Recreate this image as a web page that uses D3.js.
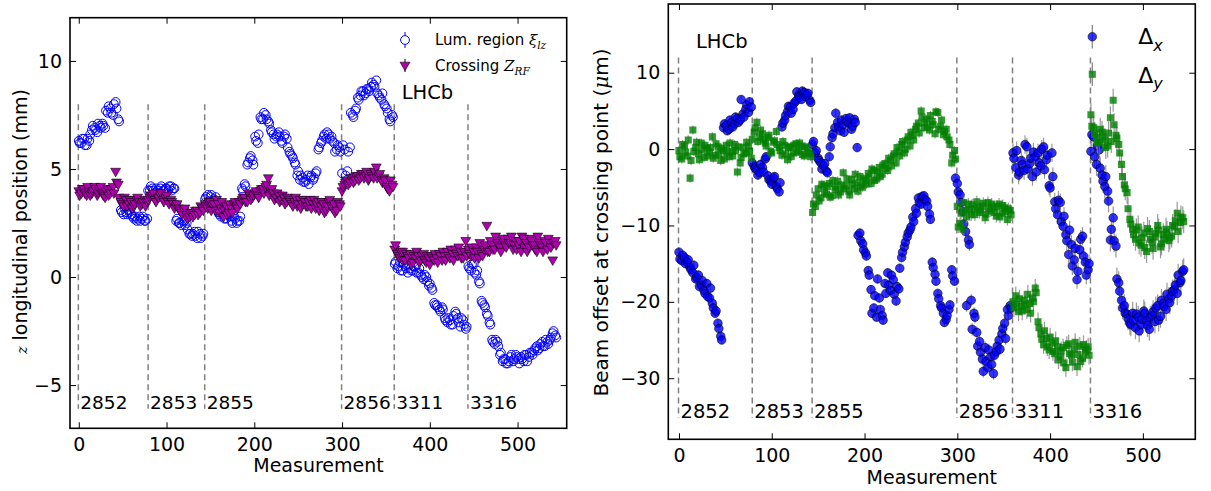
<!DOCTYPE html>
<html>
<head>
<meta charset="utf-8">
<script src="https://cdn.jsdelivr.net/npm/d3@7"></script>
<style>
  html, body { margin: 0; padding: 0; background: #fff; }
  svg { display: block; }
  text { font-family: "DejaVu Sans", sans-serif; fill: #000; }
</style>
</head>
<body>
<svg id="chart" width="1211" height="491"></svg>
<script>
// ---------------------------------------------------------------
// Data
// ---------------------------------------------------------------
// LHC fills and the first measurement belonging to each fill
const fillRuns  = ["2852", "2853", "2855", "2856", "3311", "3316"];
const fillStart = [-0.5, 79, 143.5, 299.5, 359.5, 443.5];

// Measurement index of each plotted point (first set)
const measurement = [
  0, 3, 6, 9, 12, 15, 18, 21, 24, 27,
  30, 33, 36, 39, 42, 45, 48, 51, 54, 57,
  60, 63, 66, 69, 72, 75, 78, 81, 84, 87,
  90, 93, 96, 99, 102, 105, 108, 111, 114, 117,
  120, 123, 126, 129, 132, 135, 138, 141, 144, 147,
  150, 153, 156, 159, 162, 165, 168, 171, 174, 177,
  180, 183, 186, 189, 192, 195, 198, 201, 204, 207,
  210, 213, 216, 219, 222, 225, 228, 231, 234, 237,
  240, 243, 246, 249, 252, 255, 258, 261, 264, 267,
  270, 273, 276, 279, 282, 285, 288, 291, 294, 297,
  300, 303, 306, 309, 312, 315, 318, 321, 324, 327,
  330, 333, 336, 339, 342, 345, 348, 351, 354, 357,
  360, 363, 366, 369, 372, 375, 378, 381, 384, 387,
  390, 393, 396, 399, 402, 405, 408, 411, 414, 417,
  420, 423, 426, 429, 432, 435, 438, 441, 444, 447,
  450, 453, 456, 459, 462, 465, 468, 471, 474, 477,
  480, 483, 486, 489, 492, 495, 498, 501, 504, 507,
  510, 513, 516, 519, 522, 525, 528, 531, 534, 537,
  540, 543
];

// Measurement index of each plotted point (second set)
const measurement2 = [
  1, 4, 7, 10, 13, 16, 19, 22, 25, 28,
  31, 34, 37, 40, 43, 46, 49, 52, 55, 58,
  61, 64, 67, 70, 73, 76, 79, 82, 85, 88,
  91, 94, 97, 100, 103, 106, 109, 112, 115, 118,
  121, 124, 127, 130, 133, 136, 139, 142, 145, 148,
  151, 154, 157, 160, 163, 166, 169, 172, 175, 178,
  181, 184, 187, 190, 193, 196, 199, 202, 205, 208,
  211, 214, 217, 220, 223, 226, 229, 232, 235, 238,
  241, 244, 247, 250, 253, 256, 259, 262, 265, 268,
  271, 274, 277, 280, 283, 286, 289, 292, 295, 298,
  301, 304, 307, 310, 313, 316, 319, 322, 325, 328,
  331, 334, 337, 340, 343, 346, 349, 352, 355, 358,
  361, 364, 367, 370, 373, 376, 379, 382, 385, 388,
  391, 394, 397, 400, 403, 406, 409, 412, 415, 418,
  421, 424, 427, 430, 433, 436, 439, 442, 445, 448,
  451, 454, 457, 460, 463, 466, 469, 472, 475, 478,
  481, 484, 487, 490, 493, 496, 499, 502, 505, 508,
  511, 514, 517, 520, 523, 526, 529, 532, 535, 538,
  541, 544
];

// Luminous region longitudinal centre xi_lz (mm)
const lumZ = [
  // 2852
  6.3, 6.2, 6.4, 6.1, 6.3, 6.8, 6.9, 6.7, 7.0, 7.1, 6.9, 7.6, 7.8, 7.5, 8.1, 7.3,
  3.1, 2.9, 3.0, 3.1, 2.9, 2.7, 2.6, 2.8, 2.7, 2.6, 2.7,
  // 2853
  4.0, 4.1, 3.9, 4.0, 4.1, 4.0, 4.1, 4.0, 4.2, 4.1, 2.6, 2.5, 2.4, 2.6, 2.5, 2.0,
  1.9, 2.1, 1.8, 2.0, 1.9,
  // 2855
  3.6, 3.8, 3.7, 3.5, 3.7, 3.0, 2.8, 3.1, 2.7, 2.9, 2.6, 2.8, 2.5, 2.6, 4.1, 4.3,
  5.2, 5.5, 5.4, 6.5, 6.2, 7.4, 7.3, 7.5, 7.2, 6.8, 6.6, 6.5, 6.7, 6.3, 6.5, 6.4,
  5.8, 5.6, 5.3, 4.7, 4.5, 4.6, 4.4, 4.7, 4.6, 4.5, 4.8, 5.9, 6.2, 6.5, 6.4, 6.6,
  6.5, 6.2, 5.9, 6.0,
  // 2856
  4.8, 5.9, 4.9, 6.0, 7.5, 7.7, 8.3, 8.4, 8.6, 8.5, 8.7, 8.8, 8.9, 9.1, 8.4, 8.2,
  8.0, 7.8, 7.3, 7.5,
  // 3311
  0.6, 0.4, 0.7, 0.3, 0.5, 0.2, 0.4, 0.3, 0.5, 0.2, 0.1, -0.1, 0.0, -0.4, -0.5, -1.2,
  -1.3, -1.5, -1.4, -1.9, -2.1, -2.0, -2.2, -1.6, -1.9, -2.3, -2.0, -2.4,
  // 3316
  0.5, 0.3, 0.6, 0.1, -0.2, -1.1, -1.3, -1.7, -2.1, -2.9, -3.1, -3.0, -3.6, -3.9, -3.8, -4.0,
  -3.7, -3.9, -3.6, -3.8, -3.7, -3.9, -3.6, -3.7, -3.5, -3.4, -3.2, -3.3, -3.0, -3.2,
  -3.0, -2.9, -2.6, -2.7
];
const lumZ2 = [
  // 2852
  6.2, 6.4, 6.1, 6.4, 6.6, 7.0, 6.8, 7.1, 6.9, 7.0, 7.7, 7.9, 7.6, 8.0, 7.8, 7.2,
  3.0, 3.2, 2.9, 3.0, 2.8, 2.8, 2.7, 2.6, 2.8, 2.6,
  // 2853
  4.0, 4.2, 4.0, 4.1, 3.9, 4.2, 4.0, 4.1, 4.2, 4.0, 4.1, 2.7, 2.5, 2.6, 2.4, 2.2,
  2.0, 2.0, 1.9, 2.1, 1.8, 2.0,
  // 2855
  3.7, 3.5, 3.8, 3.6, 3.3, 2.9, 3.0, 2.7, 2.9, 2.8, 2.5, 2.7, 2.6, 2.8, 4.0, 4.2,
  5.3, 5.6, 5.2, 6.3, 6.6, 7.3, 7.6, 7.3, 7.1, 6.7, 6.4, 6.6, 6.5, 6.2, 6.6, 6.0,
  5.7, 5.5, 5.2, 4.9, 4.7, 4.4, 4.5, 4.3, 4.7, 4.6, 4.9, 6.0, 6.3, 6.6, 6.7, 6.4,
  6.3, 5.8, 6.1, 5.8,
  // 2856
  6.1, 4.7, 5.8, 7.6, 7.4, 7.8, 8.2, 8.6, 8.4, 8.7, 8.6, 9.0, 8.8, 8.5, 8.3, 8.5,
  7.9, 7.6, 7.2, 7.4,
  // 3311
  0.7, 0.5, 0.3, 0.6, 0.4, 0.6, 0.3, 0.5, 0.2, 0.4, 0.0, 0.1, -0.2, -0.3, -0.6, -1.3,
  -1.4, -1.6, -1.5, -2.0, -1.9, -2.2, -1.8, -1.7, -2.1, -1.9, -2.2, -2.3,
  // 3316
  0.4, 0.6, 0.2, 0.3, -0.3, -1.2, -1.4, -1.8, -2.2, -3.0, -2.9, -3.2, -3.5, -3.8, -4.0,
  -3.9, -3.6, -3.8, -3.7, -4.0, -3.8, -3.6, -3.9, -3.5, -3.6, -3.3, -3.4, -3.1, -3.2,
  -2.9, -3.1, -2.8, -2.5, -2.8
];

// Beam crossing position from the RF timing, Z_RF (mm)
const crossZ = [
  // 2852
  4.0, 3.9, 4.1, 3.8, 4.0, 3.9, 4.2, 3.8, 4.0, 3.9, 3.7, 4.1, 3.9, 4.2, 4.9, 4.3,
  3.5, 3.3, 3.6, 3.4, 3.5, 3.3, 3.6, 3.5, 3.4, 3.6, 3.5,
  // 2853
  3.7, 3.8, 3.6, 3.7, 3.8, 3.6, 3.7, 3.5, 3.6, 3.4, 3.3, 3.2, 3.0, 3.1, 2.9, 2.8,
  3.0, 2.9, 3.1, 3.0, 3.2,
  // 2855
  3.4, 3.2, 3.5, 3.3, 3.1, 3.4, 3.2, 2.8, 3.3, 3.0, 3.2, 3.4, 3.3, 3.5, 3.6, 3.7,
  3.5, 3.8, 3.7, 3.9, 3.8, 4.0, 4.1, 4.2, 4.6, 4.0, 3.9, 3.7, 3.8, 3.6, 3.7, 3.5,
  3.6, 3.4, 3.5, 3.3, 3.6, 3.4, 3.5, 3.3, 3.6, 3.4, 3.2, 3.5, 3.3, 3.4, 3.1, 3.5,
  3.3, 3.4, 3.1, 3.4,
  // 2856
  4.0, 4.3, 4.5, 4.4, 4.6, 4.5, 4.7, 4.6, 4.8, 4.7, 4.5, 4.8, 4.6, 5.1, 4.7, 4.5,
  4.6, 4.2, 4.0, 4.3,
  // 3311
  1.3, 1.1, 0.9, 1.2, 0.8, 1.0, 1.1, 0.7, 0.9, 1.0, 0.8, 1.1, 0.7, 0.9, 1.0, 0.8,
  0.9, 1.1, 0.8, 1.0, 1.2, 0.9, 1.1, 1.3, 1.0, 1.2, 0.9, 1.7,
  // 3316
  1.3, 1.0, 1.2, 1.4, 0.9, 1.1, 1.3, 2.4, 1.2, 1.5, 1.3, 1.6, 1.4, 1.7, 1.5, 1.8,
  1.6, 1.3, 1.7, 1.5, 1.2, 1.8, 1.6, 1.4, 1.7, 1.5, 1.2, 1.6, 1.4, 1.7, 1.3, 1.6,
  0.8, 1.7
];
const crossZ2 = [
  // 2852
  3.8, 4.1, 3.9, 4.2, 3.8, 4.0, 4.1, 3.9, 4.2, 3.8, 4.0, 3.8, 4.1, 3.9, 4.4, 3.7,
  3.4, 3.7, 3.3, 3.6, 3.2, 3.4, 3.7, 3.3, 3.5, 3.3,
  // 2853
  3.6, 3.8, 3.9, 3.5, 3.7, 3.9, 3.5, 3.8, 3.4, 3.5, 3.2, 3.4, 3.1, 2.9, 3.2, 2.7,
  3.0, 2.8, 3.1, 2.9, 3.3, 3.1,
  // 2855
  3.3, 3.5, 3.1, 3.4, 3.6, 3.0, 3.5, 3.1, 2.9, 3.4, 3.0, 3.5, 3.2, 3.4, 3.7, 3.5,
  3.9, 3.6, 3.8, 4.0, 3.7, 4.1, 3.9, 4.3, 3.8, 4.1, 3.6, 3.9, 3.5, 3.8, 3.4, 3.7,
  3.5, 3.3, 3.7, 3.4, 3.2, 3.6, 3.3, 3.5, 3.2, 3.6, 3.4, 3.1, 3.5, 3.0, 3.3, 3.6,
  3.2, 3.0, 3.5, 3.3,
  // 2856
  4.2, 4.4, 4.3, 4.6, 4.4, 4.7, 4.5, 4.8, 4.6, 4.9, 4.6, 4.7, 4.9, 4.6, 4.8, 4.4,
  4.5, 4.1, 4.5, 4.2,
  // 3311
  1.5, 1.0, 1.2, 0.8, 1.1, 0.9, 0.6, 1.0, 1.2, 0.7, 1.0, 0.8, 1.0, 0.6, 0.9, 1.1,
  0.7, 1.0, 1.2, 0.8, 1.0, 1.3, 0.8, 1.1, 1.4, 0.9, 1.2, 1.0,
  // 3316
  1.1, 1.4, 0.9, 1.2, 1.6, 1.0, 1.5, 1.2, 1.7, 1.3, 1.9, 1.5, 1.2, 1.8, 1.4, 1.6,
  1.9, 1.5, 1.3, 1.7, 1.9, 1.4, 1.2, 1.8, 1.5, 1.3, 1.9, 1.5, 1.2, 1.6, 1.8, 1.4,
  1.6, 1.5
];

// Transverse beam offsets at the crossing point (micrometre)
const deltaX = [
  // 2852
  -13.5, -14.6, -14.2, -14.8, -15.5, -16.2, -17.0, -16.5, -17.8, -18.5, -17.6, -19.5,
  -20.2, -21.5, -22.8, -24.5, 2.8, 3.1, 2.6, 3.5, 3.3, 4.0, 3.8, 4.6, 5.2, 4.8, 5.5,
  // 2853
  -2.2, -2.7, -3.1, -2.4, -1.3, -3.5, -4.2, -3.8, -4.9, -5.6, 2.9, 3.8, 4.9, 5.5,
  5.2, 6.3, 7.0, 6.5, 7.4, 7.1, 6.4,
  // 2855
  0.6, -0.5, -1.2, -1.8, -2.2, -2.9, -1.0, 1.5, 2.8, 3.5, 2.4, 3.2, 4.0, 3.4, 2.6, 3.9,
  0.2, -11.0, -12.4, -13.6, -15.9, -18.4, -20.8, -22.0, -19.5, -21.8, -17.6, -16.2,
  -18.5, -17.1, -19.9, -18.3, -14.2, -12.8, -11.5, -10.6, -8.9, -7.8, -6.4, -7.2,
  -6.1, -6.8, -8.5, -14.8, -16.4, -18.9, -20.5, -21.5, -22.3, -21.0, -15.8, -17.3,
  // 2856
  -4.5, -6.0, -8.2, -10.8, -11.9, -19.8, -21.5, -24.0, -25.2, -27.5, -26.0, -28.6,
  -27.2, -29.4, -26.5, -25.0, -24.2, -22.8, -21.0, -20.5,
  // 3311
  -0.5, -2.4, -3.4, -1.5, -2.8, 0.3, -1.9, -3.6, -1.0, -0.5, -2.2, 0.3, -1.4, -4.8,
  -0.5, -6.9, -8.6, -7.0, -10.1, -11.2, -13.8, -12.5, -14.5, -17.1, -13.2, -11.4,
  -14.8, -15.8,
  // 3316
  -0.3, 1.6, -2.0, -0.1, -3.4, -4.9, -5.5, -11.9, -9.0, -12.7, -17.5, -19.8, -20.5,
  -21.6, -22.8, -21.5, -23.4, -22.0, -23.0, -21.2, -22.5, -23.6, -21.8, -22.6, -20.5,
  -21.9, -20.2, -21.0, -19.6, -19.2, -18.4, -18.9, -17.5, -16.0
];
const deltaX2 = [
  // 2852
  -14.4, -13.9, -15.0, -14.5, -15.8, -15.2, -16.8, -18.0, -17.2, -18.9, -19.3, -18.2,
  -20.8, -21.2, -23.5, -25.0, 3.3, 2.4, 3.8, 2.9, 4.2, 3.5, 6.5, 4.2, 5.8, 6.2,
  // 2853
  -1.8, -2.5, -3.4, -2.0, -3.0, -1.0, -4.0, -4.6, -3.6, -5.2, -4.4, 3.4, 4.4, 5.6,
  4.7, 6.0, 7.5, 6.8, 7.6, 6.9, 7.3, 6.1,
  // 2855
  1.0, -0.2, -1.5, -2.6, -1.9, -3.1, 0.3, 2.0, 4.7, 2.9, 3.8, 2.2, 3.6, 4.1, 3.0, 3.5,
  -11.3, -12.0, -13.2, -14.0, -16.5, -21.5, -19.2, -17.0, -21.0, -22.4, -18.9, -17.8,
  -16.5, -19.0, -18.0, -15.6, -13.5, -12.2, -11.0, -10.2, -9.5, -8.4, -7.0, -6.2,
  -6.6, -7.5, -9.2, -15.5, -17.3, -19.6, -20.8, -22.7, -21.8, -20.4, -16.6, -3.8,
  // 2856
  -5.6, -7.0, -9.8, -20.5, -12.5, -23.6, -22.0, -25.8, -26.6, -29.1, -27.8, -26.3,
  -28.2, -27.0, -25.8, -26.2, -23.5, -24.8, -21.8, -20.8,
  // 3311
  -1.2, -0.2, -3.0, -2.0, 0.6, -2.6, -1.2, -0.4, -3.0, -1.8, 0.0, -2.7, -0.8, -5.1,
  -3.6, -7.8, -6.7, -9.5, -8.8, -12.0, -10.6, -15.3, -13.0, -16.0, -11.8, -14.0,
  -16.5, -15.0,
  // 3316
  1.9, -1.0, 0.4, -2.5, -4.2, -3.6, -6.8, -10.5, -12.0, -17.0, -18.6, -20.8, -21.5,
  -22.2, -23.0, -22.4, -21.6, -23.8, -22.3, -21.5, -23.1, -22.0, -21.3, -20.8, -22.4,
  -19.8, -20.6, -19.0, -20.1, -18.6, -17.8, -16.5, -17.2, -15.8
];

const deltaY = [
  // 2852
  -0.2, -1.3, 0.4, -0.9, -3.8, 2.5, 0.2, -0.6, 0.8, -1.1, 0.1, -0.4, 1.6, -0.8, 0.3,
  -1.5, -0.2, 0.5, -1.0, -0.3, 0.6, -3.0, -1.8, 0.2, -0.5, 0.4, -1.2,
  // 2853
  2.2, 3.5, 1.6, 2.0, 0.8, 1.5, -0.3, 0.9, 2.3, 0.2, -0.8, 0.5, -1.4, 0.3, -0.5, 0.7,
  -0.2, 0.4, -0.9, 0.1, -0.6,
  // 2855
  -8.3, -7.5, -5.2, -6.4, -4.8, -5.9, -4.5, -6.1, -5.0, -4.2, -5.6, -3.1, -4.8, -5.5,
  -4.0, -5.2, -4.4, -3.6, -5.0, -4.1, -3.2, -4.5, -2.8, -3.9, -2.4, -3.3, -1.9, -2.8,
  -1.5, -0.9, -1.8, -0.3, 0.6, -0.5, 1.2, 0.4, 1.8, 2.6, 3.4, 5.0, 2.8, 3.9, 2.5, 3.6,
  2.0, 4.8, 3.0, 1.9, 2.6, 1.2, -1.8, -0.2,
  // 2856
  -7.5, -9.7, -10.5, -8.0, -7.2, -8.6, -7.8, -6.9, -8.3, -7.5, -9.0, -7.0, -8.1, -7.6,
  -8.8, -7.2, -8.4, -7.7, -9.2, -8.0,
  // 3311
  -20.0, -19.2, -21.3, -20.6, -19.8, -21.0, -20.2, -19.5, -18.2, -22.6, -24.2, -25.6,
  -24.8, -26.3, -25.4, -26.8, -25.9, -27.2, -26.0, -28.6, -25.5, -27.0, -26.2, -28.5,
  -25.8, -27.4, -26.5, -25.9,
  // 3316
  4.5, 2.8, 1.5, 0.8, 2.2, 1.2, 0.4, 4.1, 6.4, 1.8, 0.6, -2.0, -4.7, -5.7, -9.2, -10.5,
  -11.8, -10.2, -12.6, -11.0, -13.4, -10.8, -12.2, -11.5, -10.0, -12.8, -11.2, -10.5,
  -12.0, -11.4, -10.2, -8.4, -9.6, -9.0
];
const deltaY2 = [
  // 2852
  -1.0, 0.6, -0.4, 1.2, -1.5, -0.3, 0.9, -1.4, -0.1, 0.5, -0.9, 0.2, -1.2, 0.7, -0.6,
  0.1, -1.3, -0.4, 0.8, -0.9, -0.2, 0.3, -1.1, -0.6, 0.9, -0.3,
  // 2853
  1.3, 2.8, 1.0, 2.5, 1.2, 0.4, 1.8, -0.5, 1.1, 0.6, -0.2, 1.0, -0.6, 0.2, -1.0, 0.5,
  -0.4, 0.8, -0.7, 0.3, -0.4, -1.0,
  // 2855
  -7.2, -6.0, -6.8, -4.6, -5.7, -4.9, -6.3, -4.1, -5.3, -6.0, -4.7, -5.2, -3.9, -6.0,
  -4.6, -3.3, -5.5, -4.8, -3.9, -4.6, -3.6, -2.6, -4.1, -3.0, -3.6, -2.1, -2.5, -1.2,
  -2.2, -0.6, 0.2, -0.9, 1.0, 0.0, 1.6, 2.2, 1.2, 3.0, 2.1, 4.2, 3.5, 2.9, 4.4, 3.2,
  4.9, 2.6, 3.8, 2.3, 1.6, 0.6, -0.8, -1.3,
  // 2856
  -10.2, -8.4, -7.0, -8.9, -7.9, -7.3, -8.6, -7.6, -8.0, -7.1, -8.5, -7.8, -7.2, -8.3,
  -7.5, -8.9, -7.4, -8.2, -7.8, -8.6,
  // 3311
  -20.8, -20.3, -19.6, -21.2, -20.4, -19.0, -21.5, -20.0, -18.8, -23.4, -24.9, -23.8,
  -25.9, -24.6, -26.5, -25.1, -27.6, -26.4, -28.0, -25.7, -26.8, -27.9, -25.3, -26.9,
  -27.8, -25.6, -26.2, -27.0,
  // 3316
  3.0, 2.0, 0.9, 2.6, 1.6, 0.2, 2.1, 1.0, 3.2, 1.4, -0.5, -3.6, -5.2, -7.8, -9.8, -11.2,
  -10.6, -12.3, -11.6, -12.9, -10.4, -11.8, -13.0, -11.0, -10.6, -12.4, -11.8, -10.9,
  -11.6, -10.0, -9.4, -10.8, -8.9, -9.5
];

// Typical offset uncertainty per fill (micrometre)
const offsetErr = [0.6, 0.6, 0.6, 0.8, 1.2, 1.5];

// Axis ticks
const xTicks      = [0, 100, 200, 300, 400, 500];
const leftYTicks  = [-5, 0, 5, 10];
const rightYTicks = [-30, -20, -10, 0, 10];

[lumZ, crossZ, deltaX, deltaY].forEach((s, i) => {
  if (s.length !== measurement.length) throw new Error("set 1, series " + i + " has " + s.length + " values");
});
[lumZ2, crossZ2, deltaX2, deltaY2].forEach((s, i) => {
  if (s.length !== measurement2.length) throw new Error("set 2, series " + i + " has " + s.length + " values");
});

// ---------------------------------------------------------------
// Drawing
// ---------------------------------------------------------------
const svg = d3.select("#chart");
const fillOf = m => Math.max(0, d3.bisectRight(fillStart, m) - 1);

const xL = d3.scaleLinear([-10, 556], [70, 566.7]);
const yL = d3.scaleLinear([-7, 12], [428.3, 17.7]);
const xR = d3.scaleLinear([-11.5, 556.5], [668.3, 1195.3]);
const yR = d3.scaleLinear([-38, 19], [439.3, 4]);

function clipFor(id, x, y) {
  const [x0, x1] = x.range(), [y0, y1] = y.range();
  svg.append("clipPath").attr("id", id).append("rect")
    .attr("x", x0).attr("y", y1).attr("width", x1 - x0).attr("height", y0 - y1);
}
clipFor("clipL", xL, yL);
clipFor("clipR", xR, yR);

function styleAxis(sel) {
  sel.select(".domain").remove();
  sel.attr("font-family", "DejaVu Sans, sans-serif").attr("font-size", 19);
  sel.selectAll(".tick line").attr("stroke", "#000").attr("stroke-width", 1);
  sel.selectAll(".tick text").attr("fill", "#000");
}

function frame(x, y, yTicks) {
  const [x0, x1] = x.range(), [y0, y1] = y.range();
  const g = svg.append("g");
  g.append("g").attr("transform", `translate(0,${y0})`)
    .call(d3.axisBottom(x).tickValues(xTicks).tickSizeInner(-6).tickSizeOuter(0).tickPadding(9))
    .call(styleAxis);
  g.append("g").attr("transform", `translate(0,${y1})`)
    .call(d3.axisTop(x).tickValues(xTicks).tickSizeInner(-6).tickSizeOuter(0).tickFormat(() => ""))
    .call(styleAxis);
  g.append("g").attr("transform", `translate(${x0},0)`)
    .call(d3.axisLeft(y).tickValues(yTicks).tickSizeInner(-6).tickSizeOuter(0).tickPadding(8))
    .call(styleAxis);
  g.append("g").attr("transform", `translate(${x1},0)`)
    .call(d3.axisRight(y).tickValues(yTicks).tickSizeInner(-6).tickSizeOuter(0).tickFormat(() => ""))
    .call(styleAxis);
  g.append("rect").attr("x", x0).attr("y", y1).attr("width", x1 - x0).attr("height", y0 - y1)
    .attr("fill", "none").attr("stroke", "#000").attr("stroke-width", 1.6);
}

function fillMarkers(x, y, top, bottom, labelY, fontSize) {
  const g = svg.append("g");
  g.selectAll("line").data(fillStart).join("line")
    .attr("x1", d => x(d)).attr("x2", d => x(d))
    .attr("y1", y(top)).attr("y2", y(bottom))
    .attr("stroke", "#808080").attr("stroke-width", 1.5).attr("stroke-dasharray", "6,4");
  g.selectAll("text").data(fillRuns).join("text")
    .attr("x", (d, i) => x(fillStart[i]) + 2)
    .attr("y", y(labelY))
    .attr("font-size", fontSize)
    .text(d => d);
}

// combine both measurement sets into one list of records, ordered by measurement
const pts = measurement.map((m, i) => ({
  m, lum: lumZ[i], cross: crossZ[i], dx: deltaX[i], dy: deltaY[i]
})).concat(measurement2.map((m, i) => ({
  m, lum: lumZ2[i], cross: crossZ2[i], dx: deltaX2[i], dy: deltaY2[i]
}))).sort((a, b) => a.m - b.m);
pts.forEach(d => { d.fill = fillOf(d.m); });

// ----- left panel: longitudinal positions -----
fillMarkers(xL, yL, 8, -6.1, -6.1, 18.5);

const gL = svg.append("g").attr("clip-path", "url(#clipL)");
gL.append("g").selectAll("circle").data(pts).join("circle")
  .attr("cx", d => xL(d.m)).attr("cy", d => yL(d.lum)).attr("r", 4.4)
  .attr("fill", "none").attr("stroke", "#0000ff").attr("stroke-width", 1);

const tri = d3.symbol(d3.symbolTriangle, 42);
gL.append("g").selectAll("path").data(pts).join("path")
  .attr("d", tri)
  .attr("transform", d => `translate(${xL(d.m)},${yL(d.cross)}) rotate(180)`)
  .attr("fill", "#b000b0").attr("stroke", "#000").attr("stroke-width", 0.6);

frame(xL, yL, leftYTicks);

svg.append("text").attr("x", 401.7).attr("y", 99).attr("font-size", 19.5).text("LHCb");

// legend
const legL = svg.append("g");
legL.append("line").attr("x1", 405).attr("x2", 405).attr("y1", 32).attr("y2", 48)
  .attr("stroke", "#0000ff").attr("stroke-width", 1);
legL.append("circle").attr("cx", 405).attr("cy", 40).attr("r", 4.4)
  .attr("fill", "#fff").attr("stroke", "#0000ff").attr("stroke-width", 1);
legL.append("line").attr("x1", 405).attr("x2", 405).attr("y1", 59).attr("y2", 72)
  .attr("stroke", "#000").attr("stroke-width", 1);
legL.append("path").attr("d", tri).attr("transform", "translate(405,65) rotate(180)")
  .attr("fill", "#b000b0").attr("stroke", "#000").attr("stroke-width", 0.6);

const t1 = legL.append("text").attr("x", 435).attr("y", 45).attr("font-size", 15);
t1.append("tspan").text("Lum. region ");
t1.append("tspan").attr("font-family", "DejaVu Serif, serif").attr("font-style", "italic").text("ξ");
t1.append("tspan").attr("font-family", "DejaVu Serif, serif").attr("font-style", "italic")
  .attr("font-size", 10.5).attr("dy", 4).text("lz");
const t2 = legL.append("text").attr("x", 435).attr("y", 71).attr("font-size", 15);
t2.append("tspan").text("Crossing ");
t2.append("tspan").attr("font-family", "DejaVu Serif, serif").attr("font-style", "italic").text("Z");
t2.append("tspan").attr("font-family", "DejaVu Serif, serif").attr("font-style", "italic")
  .attr("font-size", 10.5).attr("dy", 4).text("RF");

// axis titles
svg.append("text").attr("x", 318.5).attr("y", 471.5).attr("text-anchor", "middle")
  .attr("font-size", 19).text("Measurement");
const ylL = svg.append("text").attr("transform", "translate(26.7,221.5) rotate(-90)")
  .attr("text-anchor", "middle").attr("font-size", 19);
ylL.append("tspan").attr("font-family", "DejaVu Serif, serif").attr("font-style", "italic")
  .attr("font-size", 14).text("z");
ylL.append("tspan").text(" longitudinal position (mm)");

// ----- right panel: beam offsets -----
fillMarkers(xR, yR, 12, -35.2, -35.2, 19.5);

const gR = svg.append("g").attr("clip-path", "url(#clipR)");
function offsetSeries(key, drawMarker) {
  const g = gR.append("g");
  g.append("g").selectAll("line").data(pts).join("line")
    .attr("x1", d => xR(d.m)).attr("x2", d => xR(d.m))
    .attr("y1", d => yR(d[key] - offsetErr[d.fill])).attr("y2", d => yR(d[key] + offsetErr[d.fill]))
    .attr("stroke", "#808080").attr("stroke-width", 1.2).attr("opacity", 0.8);
  drawMarker(g.append("g"));
}
offsetSeries("dx", g => g.selectAll("circle").data(pts).join("circle")
  .attr("cx", d => xR(d.m)).attr("cy", d => yR(d.dx)).attr("r", 4.3)
  .attr("fill", "#0000ff").attr("fill-opacity", 0.8)
  .attr("stroke", "#000").attr("stroke-opacity", 0.8).attr("stroke-width", 0.7));
const sq = d3.symbol(d3.symbolSquare, 50);
offsetSeries("dy", g => g.selectAll("path").data(pts).join("path")
  .attr("d", sq).attr("transform", d => `translate(${xR(d.m)},${yR(d.dy)})`)
  .attr("fill", "#008000").attr("fill-opacity", 0.8));

frame(xR, yR, rightYTicks);

svg.append("text").attr("x", 696).attr("y", 48).attr("font-size", 19.5).text("LHCb");

// legend
const legR = svg.append("g");
[36.7, 74.3].forEach(cy => {
  legR.append("line").attr("x1", 1092.3).attr("x2", 1092.3).attr("y1", cy - 11.7).attr("y2", cy + 11.7)
    .attr("stroke", "#808080").attr("stroke-width", 1.2);
});
legR.append("circle").attr("cx", 1092.3).attr("cy", 36.7).attr("r", 4.3)
  .attr("fill", "#0000ff").attr("fill-opacity", 0.8)
  .attr("stroke", "#000").attr("stroke-opacity", 0.8).attr("stroke-width", 0.7);
legR.append("path").attr("d", sq).attr("transform", "translate(1092.3,74.3)")
  .attr("fill", "#008000").attr("fill-opacity", 0.8);
[[44.3, "x"], [82.7, "y"]].forEach(([by, sub]) => {
  const t = legR.append("text").attr("x", 1138.3).attr("y", by)
    .attr("font-family", "DejaVu Serif, serif").attr("font-size", 22);
  t.append("tspan").text("Δ");
  t.append("tspan").attr("font-style", "italic").attr("font-size", 16).attr("dy", 6.5).text(sub);
});

svg.append("text").attr("x", 931.8).attr("y", 484).attr("text-anchor", "middle")
  .attr("font-size", 19).text("Measurement");
const ylR = svg.append("text").attr("transform", "translate(608.3,222.5) rotate(-90)")
  .attr("text-anchor", "middle").attr("font-size", 20);
ylR.append("tspan").text("Beam offset at crossing point (");
ylR.append("tspan").attr("font-family", "DejaVu Serif, serif").attr("font-style", "italic").text("μ");
ylR.append("tspan").text("m)");
</script>
</body>
</html>
